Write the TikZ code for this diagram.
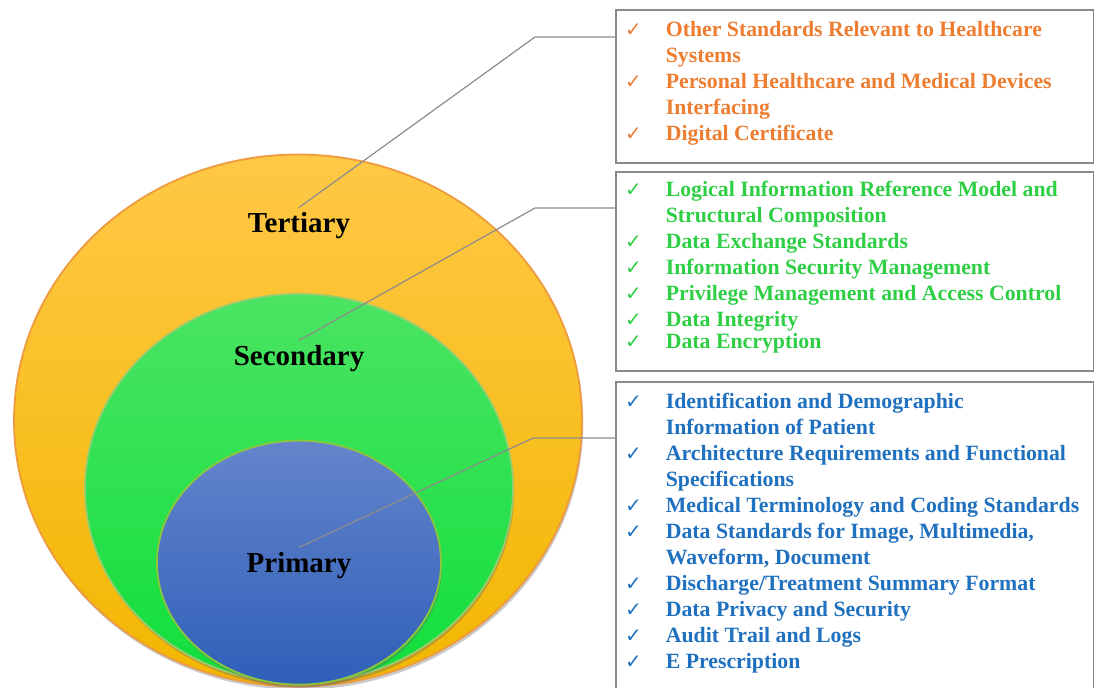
\documentclass[tikz,border=0pt]{standalone}
\usepackage{fontspec}
\setmainfont{Liberation Serif}
\newfontfamily\symfont{DejaVu Sans}
\usetikzlibrary{positioning,shapes.geometric,shadows}

\definecolor{tertorange}{HTML}{ED7D31}
\definecolor{secgreen}{HTML}{2FCF45}
\definecolor{primblue}{HTML}{1F70BF}
\definecolor{pingray}{HTML}{8C8C8C}
\definecolor{boxgray}{HTML}{8A8A8A}
% ring fills and outlines
\definecolor{tertline}{HTML}{EE9B40}
\definecolor{terttop}{HTML}{FFC846}
\definecolor{tertbot}{HTML}{F2B700}
\definecolor{secline}{HTML}{96CD6E}
\definecolor{sectop}{HTML}{4BE463}
\definecolor{secbot}{HTML}{10DF3B}
\definecolor{primline}{HTML}{8CC63E}
\definecolor{primtop}{HTML}{6485CB}
\definecolor{primbot}{HTML}{2F5FB9}

% check mark in front of every entry
\newcommand{\tickmark}{{\symfont\fontsize{10}{13}\selectfont ✓}}
\newenvironment{ticklist}{\begin{list}{\tickmark}{%
  \setlength{\leftmargin}{25pt}\setlength{\labelwidth}{10pt}%
  \setlength{\labelsep}{12pt}\setlength{\itemsep}{0pt}%
  \setlength{\parsep}{0pt}\setlength{\topsep}{0pt}\setlength{\partopsep}{0pt}}}%
  {\end{list}}
% #1 box height, #2 gap above first line, #3 items
\newcommand{\itembox}[3]{\begin{minipage}[t][#1][t]{239pt}\raggedright
  \vspace*{#2}\begin{ticklist}#3\end{ticklist}\end{minipage}}

\begin{document}
\begin{tikzpicture}[x=0.5pt, y=-0.5pt,
  ring/.style={ellipse, inner sep=0pt, line width=0.9pt,
    drop shadow={fill=black!60, opacity=0.35, shadow xshift=0.6pt, shadow yshift=-1.6pt}},
  lvl/.style={font=\fontsize{14.5}{17}\selectfont\bfseries, inner sep=2pt, anchor=base},
  listbox/.style={draw=boxgray, line width=0.8pt, inner sep=0pt, anchor=north west,
    font=\fontsize{10.9}{13}\selectfont\bfseries},
  pin/.style={draw=pingray, line width=0.6pt}
]
\useasboundingbox (0,0) rectangle (1094,687);
\clip (0,0) rectangle (1094,687);

% Nested levels
\node[ring, draw=tertline, top color=terttop, bottom color=tertbot,
  minimum width=284pt, minimum height=266pt] (tert) at (298,420.5) {};
\node[ring, draw=secline, top color=sectop, bottom color=secbot,
  minimum width=214pt, minimum height=194.5pt] (sec) at (299,488.5) {};
\node[ring, draw=primline, top color=primtop, bottom color=primbot,
  minimum width=142pt, minimum height=122pt] (prim) at (299,562.6) {};

% Level names
\node[lvl] (tlab) at (299,232) {Tertiary};
\node[lvl] (slab) at (299,365) {Secondary};
\node[lvl] (plab) at (299,572) {Primary};

% Lists
\node[listbox, text=tertorange] (tbox) at (615,9) {\itembox{76.5pt}{5.6pt}{%
  \item Other Standards Relevant to Healthcare\\ Systems
  \item Personal Healthcare and Medical Devices\\ Interfacing
  \item Digital Certificate}};
\node[listbox, text=secgreen] (sbox) at (615,171) {\itembox{99.5pt}{4.6pt}{%
  \item Logical Information Reference Model and\\ Structural Composition
  \item Data Exchange Standards
  \item Information Security Management
  \item Privilege Management and Access Control
  \item Data Integrity\vspace{-2pt}
  \item Data Encryption}};
\node[listbox, text=primblue] (pbox) at (615,381) {\itembox{170pt}{5.9pt}{%
  \item Identification and Demographic\\ Information of Patient
  \item Architecture Requirements and Functional\\ Specifications
  \item Medical Terminology and Coding Standards
  \item Data Standards for Image, Multimedia,\\ Waveform, Document
  \item Discharge/Treatment Summary Format
  \item Data Privacy and Security
  \item Audit Trail and Logs
  \item E Prescription}};

% Leader lines
\coordinate (tbend) at (535,37);
\coordinate (sbend) at (535,208);
\coordinate (pbend) at (533,438);
\draw[pin] (tlab.north) -- (tbend) -- (tbend -| tbox.west);
\draw[pin] (slab.north) -- (sbend) -- (sbend -| sbox.west);
\draw[pin] (plab.north) -- (pbend) -- (pbend -| pbox.west);

\end{tikzpicture}
\end{document}
